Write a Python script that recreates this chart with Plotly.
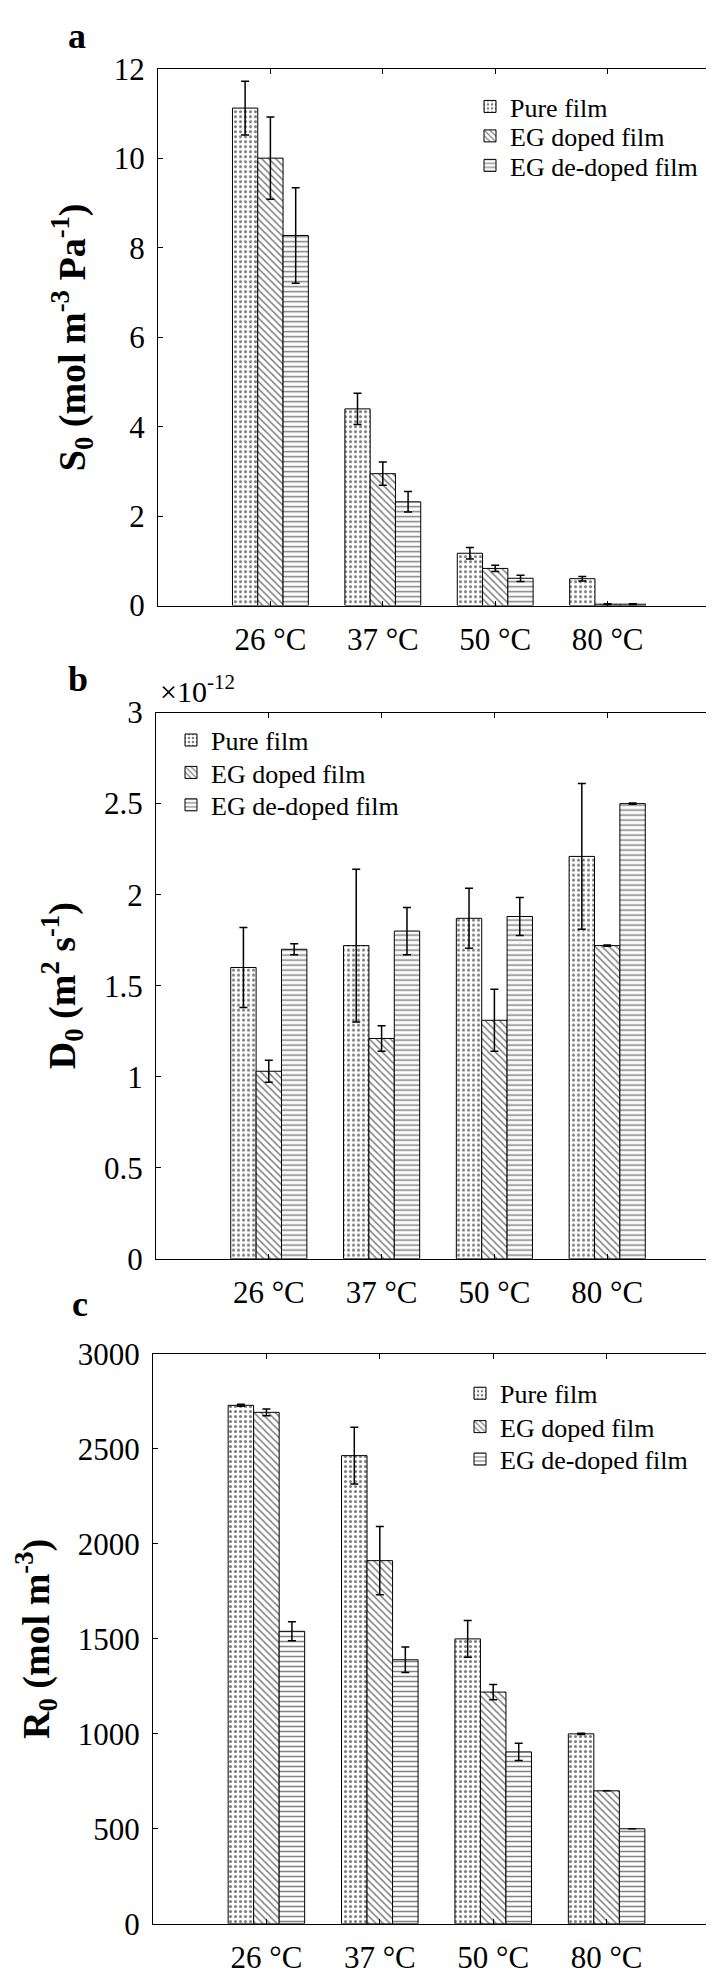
import plotly.graph_objects as go

# ---------------- data ----------------
categories = ["26 °C", "37 °C", "50 °C", "80 °C"]
series_names = ["Pure film", "EG doped film", "EG de-doped film"]

# Panel a: S0 (mol m^-3 Pa^-1)
S0_pure = [11.13, 4.40, 1.17, 0.60]
S0_pure_err = [0.60, 0.35, 0.13, 0.05]
S0_doped = [10.01, 2.95, 0.83, 0.03]
S0_doped_err = [0.92, 0.26, 0.07, 0.01]
S0_dedoped = [8.28, 2.32, 0.61, 0.03]
S0_dedoped_err = [1.07, 0.23, 0.07, 0.01]

# Panel b: D0 (x 1e-12 m^2 s^-1)
D0_pure = [1.60, 1.72, 1.87, 2.21]
D0_pure_err = [0.22, 0.42, 0.165, 0.40]
D0_doped = [1.03, 1.21, 1.31, 1.72]
D0_doped_err = [0.06, 0.07, 0.17, 0.003]
D0_dedoped = [1.70, 1.80, 1.88, 2.50]
D0_dedoped_err = [0.03, 0.13, 0.105, 0.003]

# Panel c: R0 (mol m^-3)
R0_pure = [2730, 2465, 1500, 1000]
R0_pure_err = [5, 150, 97, 3]
R0_doped = [2693, 1912, 1220, 700]
R0_doped_err = [18, 180, 40, 0]
R0_dedoped = [1540, 1390, 905, 500]
R0_dedoped_err = [50, 67, 45, 0]

S0_ticks = [0, 2, 4, 6, 8, 10, 12]
D0_ticks = [0, 0.5, 1, 1.5, 2, 2.5, 3]
R0_ticks = [0, 500, 1000, 1500, 2000, 2500, 3000]

# ---------------- style ----------------
FONT = "Liberation Serif"
W, H = 714, 1976
patterns = [".", "\\", "-"]

panels = [
    dict(vals=[S0_pure, S0_doped, S0_dedoped],
         errs=[S0_pure_err, S0_doped_err, S0_dedoped_err],
         ticks=S0_ticks, ymax=12,
         xpix=(150, 712), ypix=(45, 591),
         leg_x=462, leg_y=[83, 113, 143],
         title="<b>S<sub>0</sub> (mol m<sup>-3</sup> Pa<sup>-1</sup>)</b>"),
    dict(vals=[D0_pure, D0_doped, D0_dedoped],
         errs=[D0_pure_err, D0_doped_err, D0_dedoped_err],
         ticks=D0_ticks, ymax=3,
         xpix=(148, 712), ypix=(700, 1256),
         leg_x=163, leg_y=[728, 761, 794],
         title="<b>D<sub>0</sub> (m<sup>2</sup> s<sup>-1</sup>)</b>"),
    dict(vals=[R0_pure, R0_doped, R0_dedoped],
         errs=[R0_pure_err, R0_doped_err, R0_dedoped_err],
         ticks=R0_ticks, ymax=3000,
         xpix=(145, 712), ypix=(1353, 1933),
         leg_x=452, leg_y=[1393, 1427, 1460],
         title="<b>R<sub>0</sub> (mol m<sup>-3</sup>)</b>"),
]

fig = go.Figure()
layout = {}
legend_common = dict(font=dict(family=FONT, size=26, color="black"),
                     bgcolor="rgba(0,0,0,0)", borderwidth=0,
                     xanchor="left", yanchor="middle")
leg_idx = 0
for i, p in enumerate(panels):
    sfx = "" if i == 0 else str(i + 1)
    for j in range(3):
        leg_idx += 1
        lname = "legend" if leg_idx == 1 else "legend%d" % leg_idx
        fig.add_trace(go.Bar(
            x=categories, y=p["vals"][j], name=series_names[j],
            xaxis="x" + sfx, yaxis="y" + sfx, legend=lname,
            marker=dict(color="white",
                        line=dict(color="black", width=1),
                        pattern=dict(shape=patterns[j], fgcolor="black",
                                     bgcolor="white", size=5, solidity=0.3)),
            error_y=dict(type="data", array=p["errs"][j], color="black",
                         thickness=1.5, width=4),
        ))
        layout[lname] = dict(legend_common, x=p["leg_x"] / W,
                             y=1 - p["leg_y"][j] / H)
    x0, x1 = p["xpix"]
    y0, y1 = p["ypix"]
    axis_common = dict(showline=True, linecolor="black", linewidth=1,
                       mirror="ticks", ticks="inside", ticklen=5,
                       tickcolor="black", showgrid=False, zeroline=False,
                       ticklabelstandoff=6,
                       tickfont=dict(family=FONT, size=31, color="black"))
    layout["xaxis" + sfx] = dict(axis_common, domain=[x0 / W, x1 / W],
                                 anchor="y" + sfx, type="category",
                                 range=[-1, 4])
    layout["yaxis" + sfx] = dict(axis_common,
                                 domain=[1 - y1 / H, 1 - y0 / H],
                                 anchor="x" + sfx, range=[0, p["ymax"]],
                                 tickvals=p["ticks"],
                                 title=dict(text=p["title"], standoff=16,
                                            font=dict(family=FONT, size=38,
                                                      color="black")))

annotations = [
    dict(text="<b>a</b>", x=58 / W, y=1 - 11 / H),
    dict(text="<b>b</b>", x=58 / W, y=1 - 666 / H),
    dict(text="<b>c</b>", x=62 / W, y=1 - 1302 / H),
]
for a in annotations:
    a.update(xref="paper", yref="paper", xanchor="left", yanchor="middle",
             showarrow=False, font=dict(family=FONT, size=36, color="black"))
annotations.append(dict(text="×10<sup>-12</sup>", x=150 / W, y=1 - 697 / H,
                        xref="paper", yref="paper", xanchor="left",
                        yanchor="bottom", showarrow=False,
                        font=dict(family=FONT, size=30, color="black")))

fig.update_layout(**layout)
fig.update_layout(width=W, height=H, margin=dict(l=0, r=0, t=0, b=0),
                  paper_bgcolor="white", plot_bgcolor="white",
                  barmode="group", bargap=0.325, bargroupgap=0,
                  annotations=annotations, showlegend=True)

fig.write_html("out.html")
